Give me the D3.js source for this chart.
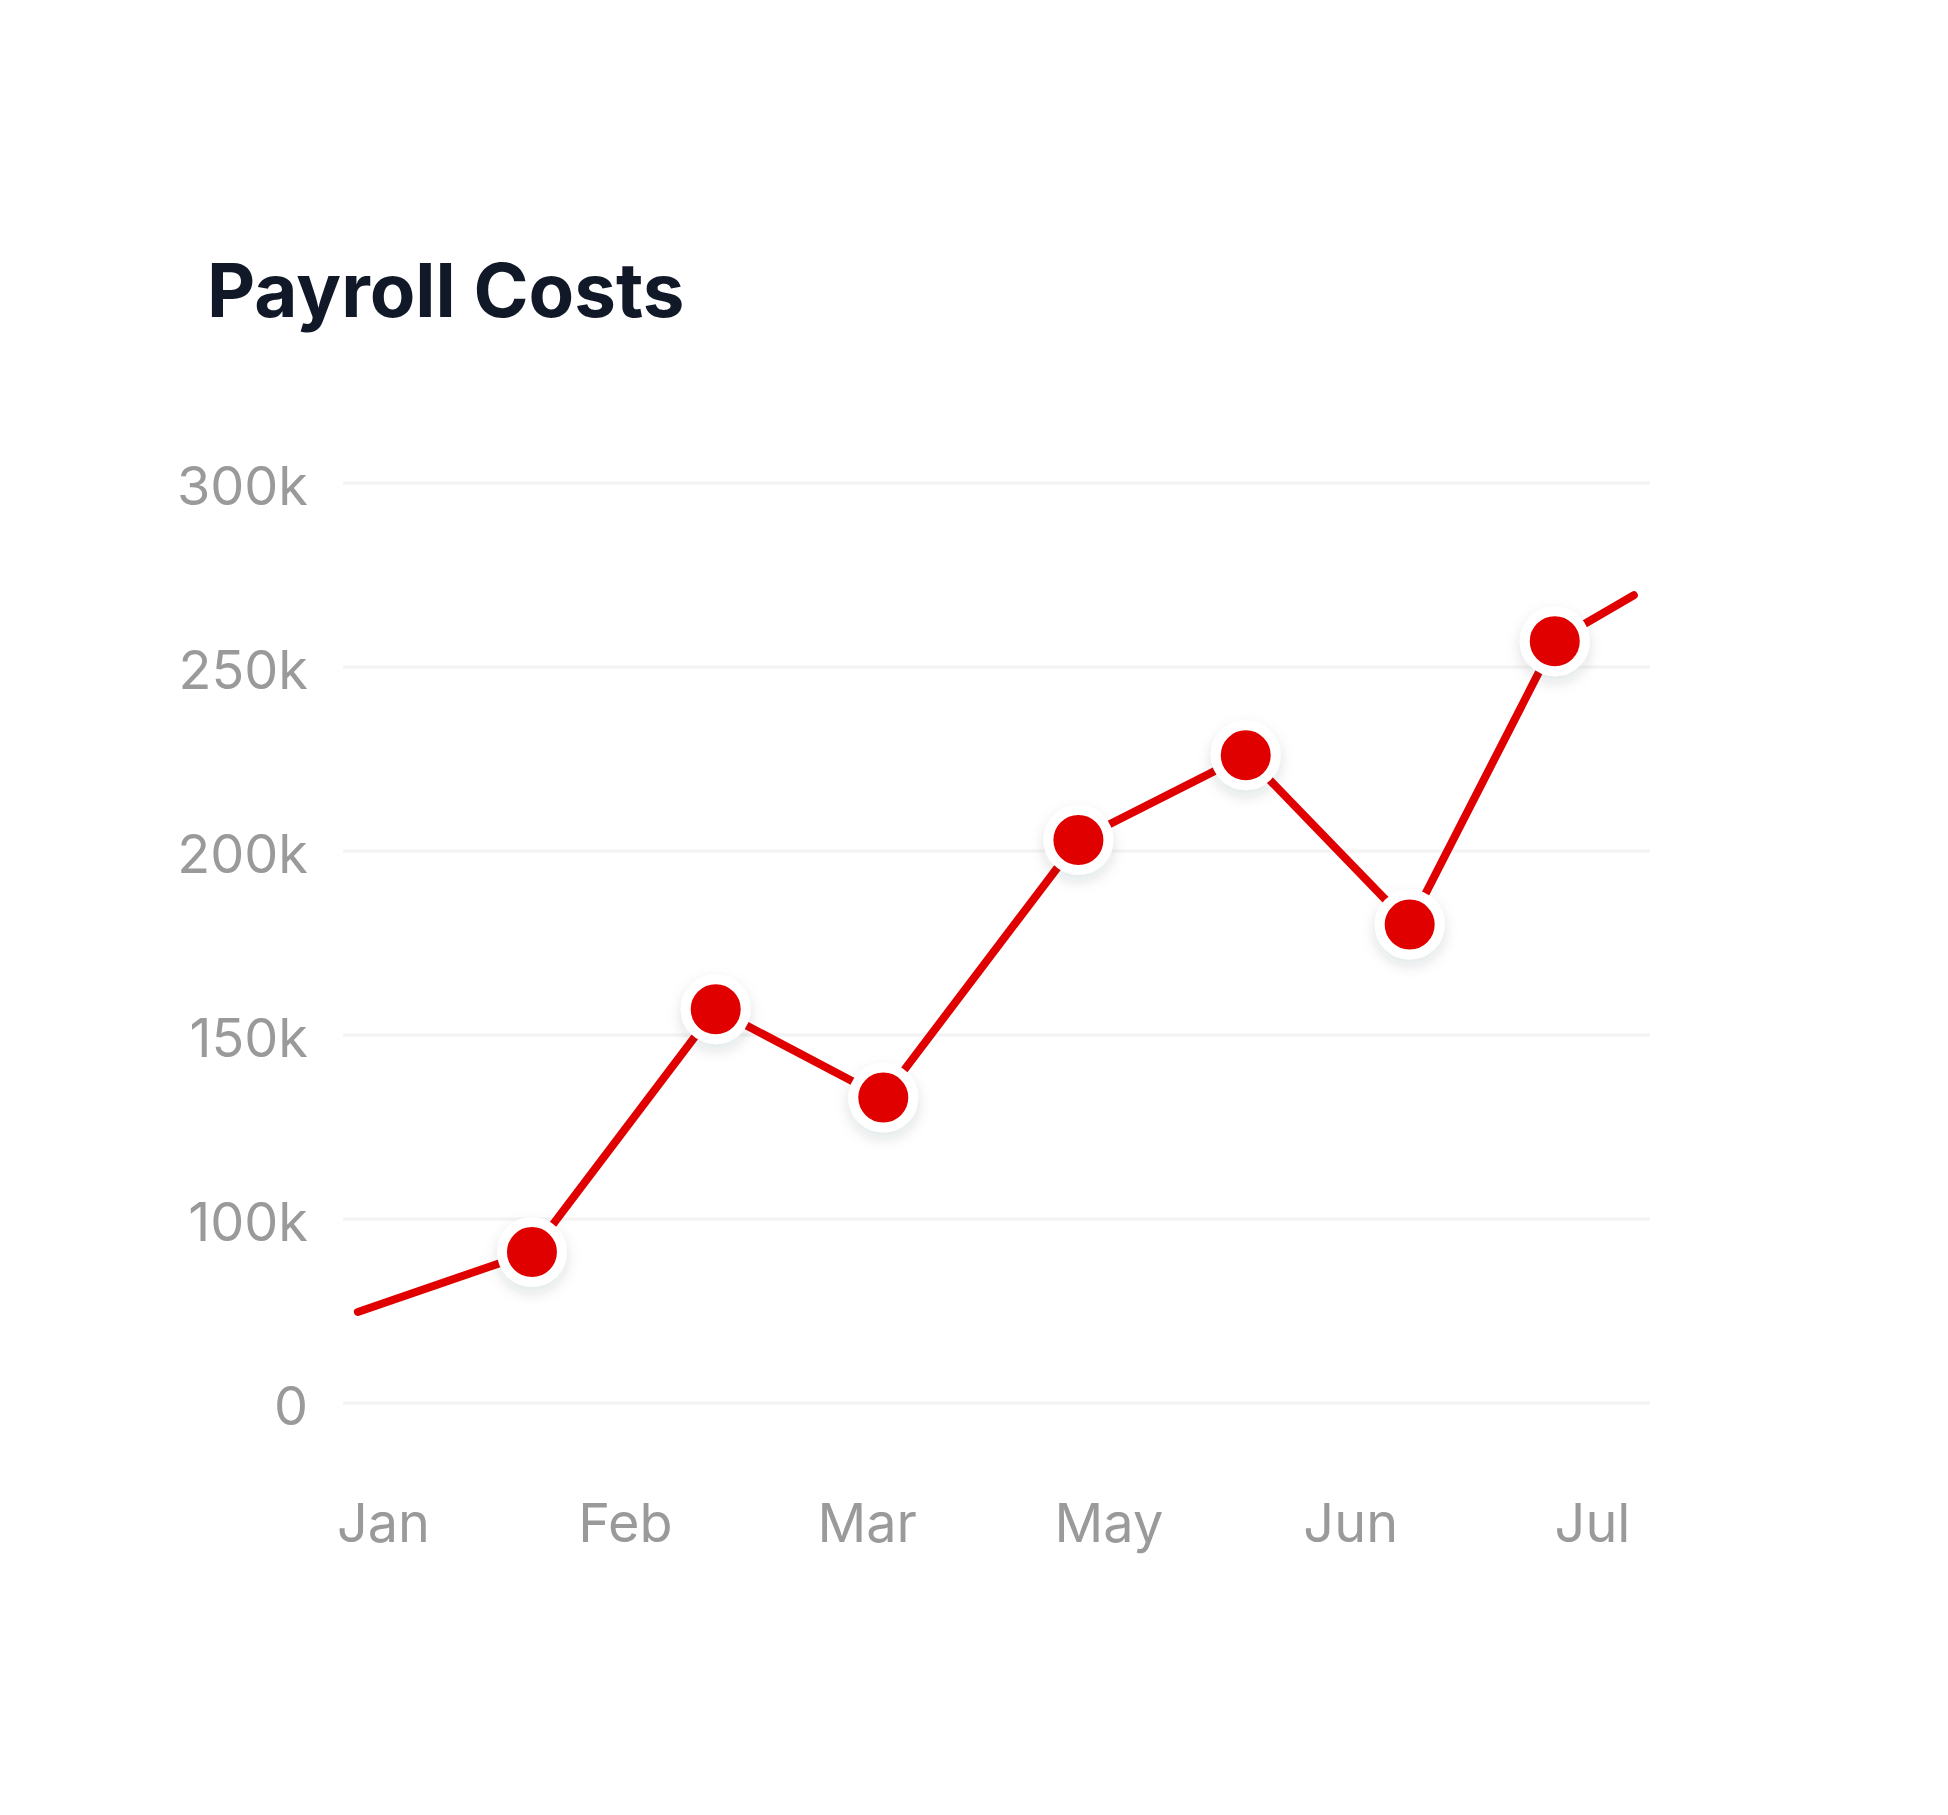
<!DOCTYPE html>
<html>
<head>
<meta charset="utf-8">
<script src="https://cdn.jsdelivr.net/npm/d3@7"></script>
<style>
  html, body { margin: 0; padding: 0; background: #ffffff; }
  svg { display: block; }
</style>
</head>
<body>
<svg id="chart" width="1948" height="1815"></svg>
<script>
// ---- data ----
const title = "Payroll Costs";
const xLabels = ["Jan", "Feb", "Mar", "May", "Jun", "Jul"];
const yTicks = [0, 100000, 150000, 200000, 250000, 300000];
const yLabels = ["0", "100k", "150k", "200k", "250k", "300k"];
// position of each point along the month axis (in label units)
const pointPos = [-0.104, 0.616, 1.376, 2.069, 2.876, 3.568, 4.246, 4.846, 5.173];
const payroll  = [49500, 82000, 157000, 133000, 203000, 226000, 180000, 257000, 269500];
const showMarker = [false, true, true, true, true, true, true, true, false];

// ---- layout ----
const plot = { left: 343, right: 1650, top: 483, bottom: 1403 };
const red = "#e10000";
const grey = "#9a9a9a";

const svg = d3.select("#chart");

const defs = svg.append("defs");
const f = defs.append("filter").attr("id", "shadow")
  .attr("x", "-60%").attr("y", "-60%").attr("width", "220%").attr("height", "220%");
f.append("feDropShadow").attr("dx", 0).attr("dy", 6).attr("stdDeviation", 7)
  .attr("flood-color", "#1f2937").attr("flood-opacity", 0.13);

// title
svg.append("text")
  .attr("x", 207).attr("y", 317)
  .attr("font-family", "Inter, 'Noto Sans', sans-serif")
  .attr("font-weight", 700)
  .attr("font-size", 74.5)
  .attr("fill", "#111827")
  .text(title);

// scales
const yIdx = d3.scaleLinear().domain([0, yTicks.length - 1]).range([plot.bottom, plot.top]);
const y = d3.scaleLinear().domain(yTicks).range(yTicks.map((_, i) => yIdx(i)));
const x = d3.scaleLinear().domain([0, xLabels.length - 1]).range([383, 1592]);

// gridlines
svg.append("g").selectAll("line").data(yTicks).join("line")
  .attr("x1", plot.left).attr("x2", plot.right)
  .attr("y1", d => y(d)).attr("y2", d => y(d))
  .attr("stroke", "#f4f4f5").attr("stroke-width", 3.5);

// y axis
const yAxis = svg.append("g")
  .attr("transform", `translate(${plot.left},0)`)
  .call(d3.axisLeft(y).tickValues(yTicks).tickFormat((d, i) => yLabels[i]).tickSize(0).tickPadding(35));
yAxis.select(".domain").remove();
yAxis.selectAll("text")
  .attr("dy", "0.40em")
  .attr("font-family", "Inter, 'Noto Sans', sans-serif")
  .attr("font-size", 54)
  .attr("fill", grey);

// x axis
const xAxis = svg.append("g")
  .attr("transform", `translate(0,${plot.bottom})`)
  .call(d3.axisBottom(x).tickValues(d3.range(xLabels.length)).tickFormat(i => xLabels[i]).tickSize(0).tickPadding(101));
xAxis.select(".domain").remove();
xAxis.selectAll("text")
  .attr("font-family", "Inter, 'Noto Sans', sans-serif")
  .attr("font-size", 54)
  .attr("fill", grey);

// data
const pts = payroll.map((v, i) => ({ x: pointPos[i], v, m: showMarker[i] }));

const line = d3.line().x(d => x(d.x)).y(d => y(d.v));
svg.append("path")
  .datum(pts)
  .attr("d", line)
  .attr("fill", "none")
  .attr("stroke", red)
  .attr("stroke-width", 8)
  .attr("stroke-linecap", "round")
  .attr("stroke-linejoin", "round");

svg.append("g").selectAll("circle").data(pts.filter(d => d.m)).join("circle")
  .attr("cx", d => x(d.x))
  .attr("cy", d => y(d.v))
  .attr("r", 30)
  .attr("fill", red)
  .attr("stroke", "#ffffff")
  .attr("stroke-width", 10)
  .attr("filter", "url(#shadow)");
</script>
</body>
</html>
